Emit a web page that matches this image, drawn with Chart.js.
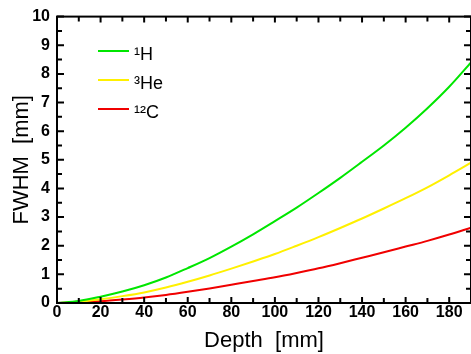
<!DOCTYPE html>
<html>
<head>
<meta charset="utf-8">
<script src="https://cdn.jsdelivr.net/npm/chart.js@4"></script>
<style>
  html, body { margin: 0; padding: 0; background: #fff; }
  canvas { display: block; }
</style>
</head>
<body>
<canvas id="chart" width="471" height="354"></canvas>
<script>
// depth in mm
const depth = [0, 10, 20, 30, 40, 50, 60, 70, 80, 90, 100, 110, 120, 130, 140, 150, 160, 170, 180, 190];
// FWHM in mm
const fwhmH = [0, 0.07, 0.22, 0.40, 0.62, 0.89, 1.22, 1.57, 1.97, 2.40, 2.86, 3.33, 3.84, 4.37, 4.93, 5.50, 6.12, 6.80, 7.55, 8.40];
const fwhmHe = [0, 0.04, 0.13, 0.24, 0.37, 0.54, 0.74, 0.96, 1.20, 1.45, 1.71, 2.00, 2.30, 2.62, 2.95, 3.30, 3.66, 4.04, 4.46, 4.90];
const fwhmC = [0, 0.02, 0.06, 0.12, 0.19, 0.28, 0.39, 0.51, 0.64, 0.77, 0.90, 1.05, 1.21, 1.39, 1.58, 1.77, 1.97, 2.17, 2.39, 2.63];

const seriesLabels = ['¹H', '³He', '¹²C'];
const xTicks = [0, 20, 40, 60, 80, 100, 120, 140, 160, 180];
const yTicks = [0, 1, 2, 3, 4, 5, 6, 7, 8, 9, 10];

const colors = ['rgb(0,230,0)', 'rgb(255,240,0)', 'rgb(240,0,0)'];

const toPoints = (ys) => depth.map((x, i) => ({ x: x, y: ys[i] }));

// frame + inward ticks on all four sides
const frameTicks = {
    id: 'frameTicks',
    afterDraw(chart) {
        const { ctx, chartArea: a, scales } = chart;
        ctx.save();
        ctx.strokeStyle = '#000';
        ctx.lineWidth = 2;
        ctx.strokeRect(a.left, a.top, a.right - a.left, a.bottom - a.top);

        const mids = (arr) => arr.slice(0, -1).map((v, i) => (v + arr[i + 1]) / 2);
        const xMinor = mids(xTicks);
        const yMinor = mids(yTicks);

        ctx.beginPath();
        const xt = (v, len) => {
            const px = scales.x.getPixelForValue(v);
            ctx.moveTo(px, a.bottom); ctx.lineTo(px, a.bottom - len);
            ctx.moveTo(px, a.top); ctx.lineTo(px, a.top + len);
        };
        const yt = (v, len) => {
            const py = scales.y.getPixelForValue(v);
            ctx.moveTo(a.left, py); ctx.lineTo(a.left + len, py);
            ctx.moveTo(a.right, py); ctx.lineTo(a.right - len, py);
        };
        xTicks.forEach(v => xt(v, 6));
        xMinor.forEach(v => xt(v, 5));
        yTicks.forEach(v => yt(v, 7));
        yMinor.forEach(v => yt(v, 5));
        ctx.stroke();
        ctx.restore();
    }
};

// legend in the upper left corner
const sideLegend = {
    id: 'sideLegend',
    afterDraw(chart) {
        const ctx = chart.ctx;
        ctx.save();
        ctx.font = '18px "Liberation Sans", Arial, sans-serif';
        ctx.textBaseline = 'middle';
        ctx.fillStyle = '#000';
        chart.data.datasets.forEach((ds, i) => {
            const y = 51 + i * 29;
            ctx.strokeStyle = ds.borderColor;
            ctx.lineWidth = 2;
            ctx.beginPath();
            ctx.moveTo(98, y);
            ctx.lineTo(129, y);
            ctx.stroke();
            ctx.fillText(ds.label, 134, y + 4);
        });
        ctx.restore();
    }
};

const tickFont = { family: '"Liberation Sans", Arial, sans-serif', size: 16, weight: 'bold' };
const titleFont = { family: '"Liberation Sans", Arial, sans-serif', size: 22 };

new Chart(document.getElementById('chart').getContext('2d'), {
    type: 'line',
    data: {
        datasets: [fwhmH, fwhmHe, fwhmC].map((ys, i) => ({
            label: seriesLabels[i],
            data: toPoints(ys),
            borderColor: colors[i],
            borderWidth: 2,
            pointRadius: 0,
            cubicInterpolationMode: 'monotone',
            fill: false
        }))
    },
    options: {
        responsive: false,
        animation: false,
        layout: { padding: { top: 13, right: 0, left: 0, bottom: 0 } },
        plugins: {
            legend: { display: false },
            tooltip: { enabled: false }
        },
        scales: {
            x: {
                type: 'linear',
                min: 0,
                max: 190,
                afterBuildTicks: (axis) => { axis.ticks = xTicks.map(v => ({ value: v })); },
                afterFit: (axis) => { axis.height = 51; },
                grid: { display: false, drawTicks: false },
                border: { display: false },
                ticks: { color: '#000', font: tickFont, padding: 0, maxRotation: 0 },
                title: { display: true, text: 'Depth  [mm]', color: '#000', font: titleFont, padding: { top: 0, bottom: 0 } }
            },
            y: {
                type: 'linear',
                min: 0,
                max: 10,
                afterBuildTicks: (axis) => { axis.ticks = yTicks.map(v => ({ value: v })); },
                afterFit: (axis) => { axis.width = 57; },
                grid: { display: false, drawTicks: false },
                border: { display: false },
                ticks: { color: '#000', font: tickFont, padding: 7 },
                title: { display: true, text: 'FWHM  [mm]', color: '#000', font: titleFont, padding: { top: 9, bottom: 0 } }
            }
        }
    },
    plugins: [frameTicks, sideLegend]
});
</script>
</body>
</html>
